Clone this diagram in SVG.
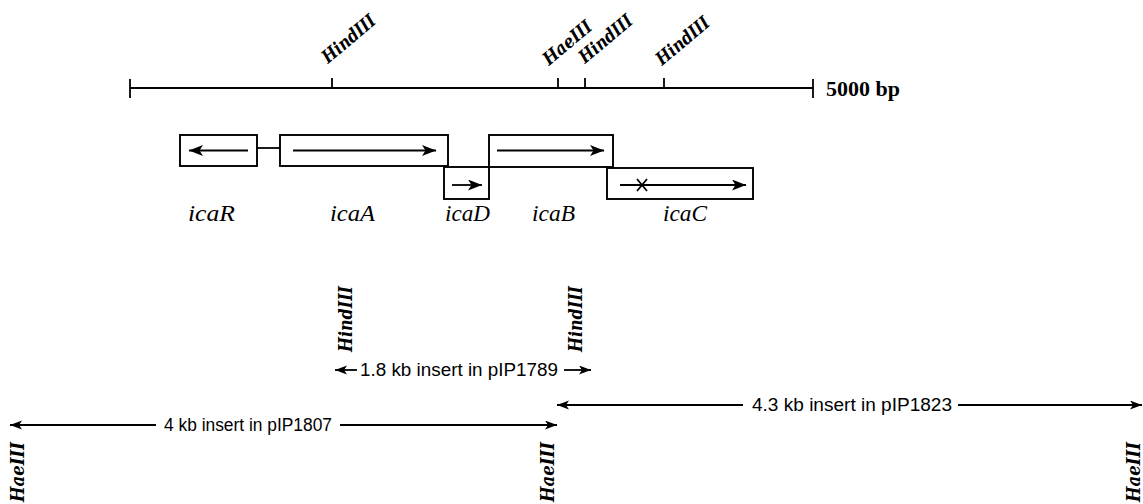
<svg xmlns="http://www.w3.org/2000/svg" width="1143" height="504" viewBox="0 0 1143 504">
  <style>
    .ln { stroke: #000; stroke-width: 1.8; fill: none; }
    .box { fill: #fff; stroke: #000; stroke-width: 1.9; }
    .site { font-family: "DejaVu Serif", "Liberation Serif", serif; font-weight: bold; font-style: italic; font-size: 18px; fill: #000; }
    .gene { font-family: "Liberation Serif", "Times New Roman", serif; font-style: italic; font-size: 23px; fill: #000; }
    .scale { font-family: "Liberation Serif", "Times New Roman", serif; font-weight: bold; font-size: 22px; fill: #000; }
    .frag { font-family: "Liberation Sans", Arial, sans-serif; font-size: 18px; fill: #000; }
  </style>
  <defs>
    <marker id="geneHead" markerUnits="userSpaceOnUse" markerWidth="16" markerHeight="12" refX="14" refY="5.5" orient="auto">
      <path d="M0,0 L14,5.5 L0,11 L3.5,5.5 z" fill="#000"/>
    </marker>
    <marker id="fragHead" markerUnits="userSpaceOnUse" markerWidth="14" markerHeight="11" refX="12" refY="4.5" orient="auto">
      <path d="M0,0 L12,4.5 L0,9 L3,4.5 z" fill="#000"/>
    </marker>
  </defs>

  <!-- physical map scale with restriction sites -->
  <g id="scale">
    <line class="ln" x1="130" y1="88" x2="813" y2="88" stroke-width="2"/>
    <line class="ln" x1="130" y1="79" x2="130" y2="98" stroke-width="2"/>
    <line class="ln" x1="813" y1="79" x2="813" y2="98" stroke-width="2"/>
    <line class="ln" x1="332" y1="78" x2="332" y2="88"/>
    <line class="ln" x1="558" y1="78" x2="558" y2="88"/>
    <line class="ln" x1="585" y1="78" x2="585" y2="88"/>
    <line class="ln" x1="664" y1="78" x2="664" y2="88"/>
    <text class="scale" x="826" y="96">5000 bp</text>
  </g>
  <g id="site-labels">
    <text class="site" transform="translate(328,64) rotate(-40)" textLength="64" lengthAdjust="spacingAndGlyphs">HindIII</text>
    <text class="site" transform="translate(549,66) rotate(-40)" textLength="58" lengthAdjust="spacingAndGlyphs">HaeIII</text>
    <text class="site" transform="translate(585,64) rotate(-40)" textLength="64" lengthAdjust="spacingAndGlyphs">HindIII</text>
    <text class="site" transform="translate(662,66) rotate(-40)" textLength="64" lengthAdjust="spacingAndGlyphs">HindIII</text>
  </g>

  <!-- ica operon genes -->
  <g id="icaR">
    <rect class="box" x="180" y="135" width="77" height="31"/>
    <line class="ln" x1="248" y1="150.5" x2="189" y2="150.5" marker-end="url(#geneHead)"/>
    <text class="gene" x="188" y="221" textLength="47" lengthAdjust="spacingAndGlyphs">icaR</text>
  </g>
  <g id="icaA">
    <line class="ln" x1="257" y1="148" x2="280" y2="148"/>
    <rect class="box" x="280" y="135" width="168" height="31"/>
    <line class="ln" x1="293" y1="150.5" x2="436" y2="150.5" marker-end="url(#geneHead)"/>
    <text class="gene" x="330" y="221" textLength="45" lengthAdjust="spacingAndGlyphs">icaA</text>
  </g>
  <g id="icaD">
    <rect class="box" x="444" y="167" width="45" height="32"/>
    <line class="ln" x1="452" y1="185" x2="482" y2="185" marker-end="url(#geneHead)"/>
    <text class="gene" x="445" y="221" textLength="45" lengthAdjust="spacingAndGlyphs">icaD</text>
  </g>
  <g id="icaB">
    <rect class="box" x="489" y="135" width="124" height="32"/>
    <line class="ln" x1="497" y1="150.5" x2="604" y2="150.5" marker-end="url(#geneHead)"/>
    <text class="gene" x="532" y="221" textLength="43" lengthAdjust="spacingAndGlyphs">icaB</text>
  </g>
  <g id="icaC">
    <rect class="box" x="607" y="168" width="146" height="31"/>
    <line class="ln" x1="620" y1="185" x2="746" y2="185" marker-end="url(#geneHead)"/>
    <path class="ln" d="M637,179 L647,191 M647,179 L637,191" stroke-width="2.8"/>
    <text class="gene" x="663" y="221" textLength="44" lengthAdjust="spacingAndGlyphs">icaC</text>
  </g>

  <!-- cloned fragment end sites -->
  <g id="fragment-sites">
    <text class="site" transform="translate(352,352) rotate(-90)" textLength="66" lengthAdjust="spacingAndGlyphs">HindIII</text>
    <text class="site" transform="translate(582,352) rotate(-90)" textLength="66" lengthAdjust="spacingAndGlyphs">HindIII</text>
    <text class="site" transform="translate(24,502) rotate(-90)" textLength="60" lengthAdjust="spacingAndGlyphs">HaeIII</text>
    <text class="site" transform="translate(554,502) rotate(-90)" textLength="60" lengthAdjust="spacingAndGlyphs">HaeIII</text>
    <text class="site" transform="translate(1140,502) rotate(-90)" textLength="60" lengthAdjust="spacingAndGlyphs">HaeIII</text>
  </g>

  <!-- insert spans -->
  <g id="connectors">
    <line class="ln" x1="357" y1="370" x2="335" y2="370" marker-end="url(#fragHead)"/>
    <line class="ln" x1="564" y1="370" x2="591" y2="370" marker-end="url(#fragHead)"/>
    <line class="ln" x1="743" y1="405" x2="557" y2="405" marker-end="url(#fragHead)"/>
    <line class="ln" x1="958" y1="405" x2="1142" y2="405" marker-end="url(#fragHead)"/>
    <line class="ln" x1="156" y1="425" x2="10" y2="425" marker-end="url(#fragHead)"/>
    <line class="ln" x1="340" y1="425" x2="557" y2="425" marker-end="url(#fragHead)"/>
  </g>
  <g id="insert-labels">
    <text class="frag" x="360" y="376" textLength="198" lengthAdjust="spacingAndGlyphs">1.8 kb insert in pIP1789</text>
    <text class="frag" x="752" y="411" textLength="200" lengthAdjust="spacingAndGlyphs">4.3 kb insert in pIP1823</text>
    <text class="frag" x="164" y="431" textLength="168" lengthAdjust="spacingAndGlyphs">4 kb insert in pIP1807</text>
  </g>
</svg>
